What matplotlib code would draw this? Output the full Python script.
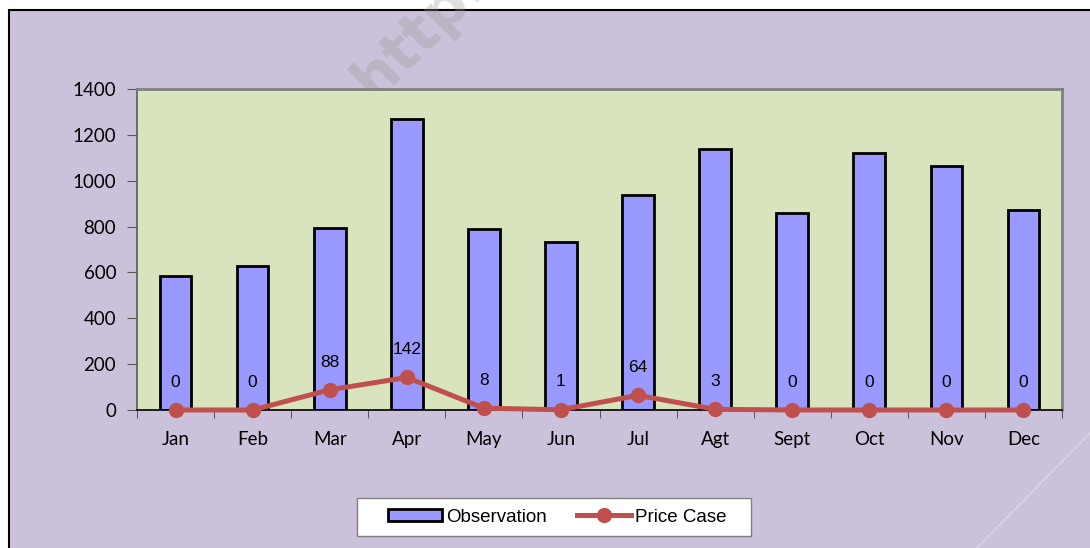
import matplotlib
matplotlib.use("Agg")
import matplotlib.pyplot as plt
from matplotlib.patches import Rectangle
from matplotlib.lines import Line2D

# monthly values
months = ["Jan", "Feb", "Mar", "Apr", "May", "Jun", "Jul", "Agt", "Sept", "Oct", "Nov", "Dec"]
observation = [585, 626, 794, 1270, 789, 733, 939, 1138, 859, 1121, 1064, 873]
price_case = [0, 0, 88, 142, 8, 1, 64, 3, 0, 0, 0, 0]

W, H = 1090, 548
fig = plt.figure(figsize=(W / 100, H / 100), dpi=100, facecolor="white")

# lavender chart area with black border (runs off the right/bottom edge)
fig.patches.append(Rectangle((8.5 / W, -0.1), 1.2, 1 - 9.5 / H + 0.1,
                             transform=fig.transFigure, facecolor="#CCC1DA",
                             edgecolor="black", linewidth=1.5, zorder=-3))

# faint watermark
fig.text(374 / W, 1 - 102 / H, "http:", transform=fig.transFigure, rotation=45,
         rotation_mode="anchor", fontsize=42, fontweight="bold", color="#9a9a9a",
         alpha=0.32, ha="left", va="baseline", zorder=-2, family="DejaVu Sans")
fig.lines.append(Line2D([1090 / W, 977 / W], [1 - 433 / H, 0], transform=fig.transFigure,
                        color="#dcd4e6", linewidth=1.2, zorder=-2))

ax = fig.add_axes([137 / W, 1 - 410 / H, 925 / W, 321 / H])
ax.set_facecolor("#D7E4BD")

x = range(len(months))
bars = ax.bar(x, observation, width=0.41, color="#9999FF", edgecolor="black",
              linewidth=2, zorder=2, label="Observation")
line, = ax.plot(x, price_case, color="#C0504D", linewidth=3.6, marker="o", markersize=10,
                zorder=3, label="Price Case", clip_on=False)

for i, v in enumerate(price_case):
    ax.annotate(str(v), (i, v), xytext=(0, 20), textcoords="offset points",
                ha="center", va="center", fontsize=12.5, family="Liberation Sans",
                zorder=4)

ax.set_xlim(-0.5, len(months) - 0.5)
ax.set_ylim(0, 1400)
ax.set_yticks(range(0, 1401, 200))
ax.set_xticks(list(x))
ax.set_xticklabels(months, family="Lato", fontsize=13.5)
ax.set_xticks([i - 0.5 for i in range(len(months) + 1)], minor=True)
for lab in ax.get_yticklabels():
    lab.set_family("Lato")
    lab.set_fontsize(13.5)

ax.tick_params(axis="x", which="major", length=0, pad=15)
ax.tick_params(axis="x", which="minor", length=6, direction="out", color="#404040")
ax.tick_params(axis="y", length=7, direction="out", color="#595959", pad=8)

ax.spines["bottom"].set_color("black")
ax.spines["bottom"].set_linewidth(1.2)
ax.spines["left"].set_color("#595959")
ax.spines["left"].set_linewidth(1.2)
for s in ("top", "right"):
    ax.spines[s].set_color("#808080")
    ax.spines[s].set_linewidth(2)

# legend box drawn by hand, legend itself frameless
fig.patches.append(Rectangle((357 / W, 1 - 536 / H), 394 / W, 38 / H,
                             transform=fig.transFigure, facecolor="white",
                             edgecolor="#808080", linewidth=1, zorder=5))
leg = fig.legend([bars, line], ["Observation", "Price Case"], loc="center",
                 bbox_to_anchor=(557 / W, 1 - 517 / H),
                 ncol=2, frameon=False, handlelength=2.9, handleheight=0.55,
                 handletextpad=0.2, columnspacing=1.6,
                 prop={"family": "Liberation Sans", "size": 13.5})
leg.set_zorder(6)

fig.savefig("out.png", dpi=100, facecolor="white")
